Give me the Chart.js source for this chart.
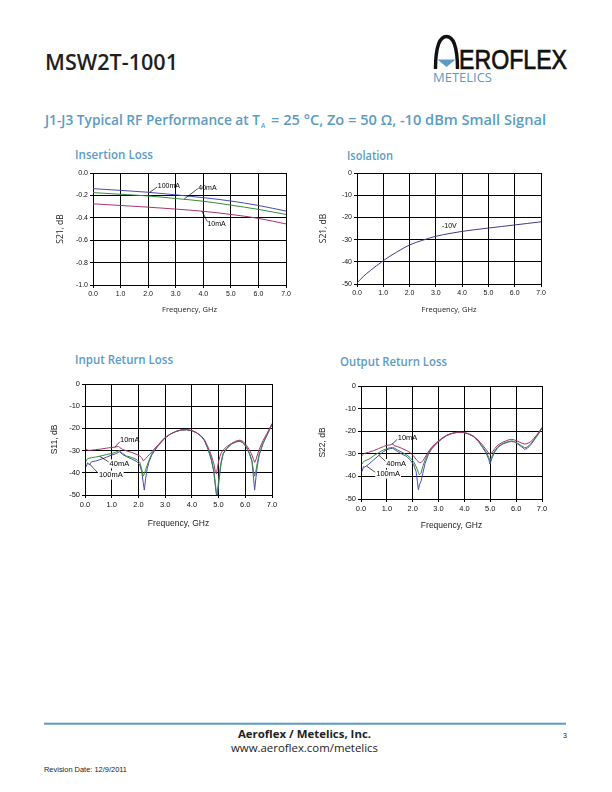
<!DOCTYPE html>
<html>
<head>
<meta charset="utf-8">
<script src="https://cdn.jsdelivr.net/npm/chart.js@4.4.1/dist/chart.umd.min.js"></script>
<style>
html, body { margin: 0; padding: 0; background: #fff; }
#page { position: relative; width: 612px; height: 792px; overflow: hidden; }
#page svg { position: absolute; left: 0; top: 0; }
canvas { position: absolute; }
</style>
</head>
<body>
<div id="page">
<svg width="612" height="792">
  <text x="45" y="69.5" font-family="Open Sans" font-weight="600" font-size="22" fill="#231f20" textLength="133" lengthAdjust="spacingAndGlyphs">MSW2T-1001</text>
  <path d="M435.5 69 C435.5 46, 440 36.5, 446.5 36.5 C453 36.5, 457.5 46, 457.5 69" fill="none" stroke="#111" stroke-width="3.4"/>
  <path d="M437.5 59.5 L455.5 59.5 L446.5 67 Z" fill="#5b9bc4"/>
  <text x="459" y="69" font-family="Liberation Sans" font-size="28" fill="#111" stroke="#111" stroke-width="0.7" textLength="108" lengthAdjust="spacingAndGlyphs">EROFLEX</text>
  <text x="433" y="81.5" font-family="Open Sans" font-size="12.5" fill="#5b9bc4" textLength="59" lengthAdjust="spacingAndGlyphs">METELICS</text>

  <text x="45" y="125" font-family="Open Sans" font-weight="600" font-size="14" fill="#5b9bc4" textLength="215" lengthAdjust="spacingAndGlyphs">J1-J3 Typical RF Performance at T</text>
  <text x="261" y="127.5" font-family="Open Sans" font-weight="600" font-size="6.5" fill="#5b9bc4">A</text>
  <text x="271" y="125" font-family="Open Sans" font-weight="600" font-size="14" fill="#5b9bc4" textLength="275" lengthAdjust="spacingAndGlyphs">= 25 °C, Zo = 50 Ω, -10 dBm Small Signal</text>

  <text x="75" y="159" font-family="Open Sans" font-weight="600" font-size="12.5" fill="#5b9bc4" textLength="78" lengthAdjust="spacingAndGlyphs">Insertion Loss</text>
  <text x="347" y="160" font-family="Open Sans" font-weight="600" font-size="12.5" fill="#5b9bc4" textLength="46" lengthAdjust="spacingAndGlyphs">Isolation</text>
  <text x="75" y="364" font-family="Open Sans" font-weight="600" font-size="12.5" fill="#5b9bc4" textLength="98" lengthAdjust="spacingAndGlyphs">Input Return Loss</text>
  <text x="340" y="366" font-family="Open Sans" font-weight="600" font-size="12.5" fill="#5b9bc4" textLength="107" lengthAdjust="spacingAndGlyphs">Output Return Loss</text>

  <rect x="44" y="722.7" width="522" height="2" fill="#5b9bc4"/>
  <text x="238" y="738" font-family="Open Sans" font-weight="700" font-size="11" fill="#222" textLength="133" lengthAdjust="spacingAndGlyphs">Aeroflex / Metelics, Inc.</text>
  <text x="231" y="751.5" font-family="Open Sans" font-size="11.5" fill="#222" textLength="147" lengthAdjust="spacingAndGlyphs">www.aeroflex.com/metelics</text>
  <text x="563" y="738" font-family="Liberation Sans" font-size="7" fill="#222">3</text>
  <text x="44" y="772" font-family="Liberation Sans" font-size="7.5" fill="#222" textLength="83" lengthAdjust="spacingAndGlyphs">Revision Date: 12/9/2011</text>
</svg>
<canvas id="ilChart" width="240" height="150" style="left:55px;top:165px"></canvas>
<canvas id="isoChart" width="235" height="150" style="left:318px;top:165px"></canvas>
<canvas id="s11Chart" width="232" height="155" style="left:50px;top:375px"></canvas>
<canvas id="s22Chart" width="235" height="155" style="left:318px;top:377px"></canvas>
</div>
<script>
// tick labels
const xTickLabels = ['0.0', '1.0', '2.0', '3.0', '4.0', '5.0', '6.0', '7.0'];
const ilTickLabels = ['-1.0', '-0.8', '-0.6', '-0.4', '-0.2', '0.0'];

// Insertion loss (S21, dB)
const freqIL = [0, 1, 2, 3, 4, 5, 6, 7];
const il100mA = [-0.14, -0.155, -0.172, -0.195, -0.22, -0.25, -0.29, -0.34];
const il40mA = [-0.175, -0.19, -0.205, -0.228, -0.252, -0.287, -0.325, -0.37];
const il10mA = [-0.275, -0.29, -0.305, -0.322, -0.342, -0.37, -0.405, -0.455];

// Isolation (S21, dB) at -10V
const freqIso = [0, 0.25, 0.5, 0.75, 1, 1.25, 1.5, 2, 2.5, 3, 3.5, 4, 4.5, 5, 5.5, 6, 6.5, 7];
const iso10V = [-49.5, -46.5, -44, -41.7, -39.5, -37.5, -35.7, -32.4, -30.3, -28.5, -27.3, -26.3, -25.5, -24.8, -24.1, -23.4, -22.7, -22];

// Input return loss (S11, dB)
const freqS11 = [0.04, 0.1, 0.16, 0.25, 0.4, 0.6, 0.8, 1.0, 1.15, 1.25, 1.3, 1.4, 1.55, 1.75, 1.95, 2.05, 2.12, 2.18, 2.22, 2.27,
  2.33, 2.4, 2.5, 2.62, 2.75, 2.87, 3.0, 3.2, 3.4, 3.6, 3.8, 4.0, 4.17, 4.35, 4.48, 4.6, 4.72, 4.82, 4.88, 4.92,
  4.96, 5.0, 5.05, 5.1, 5.17, 5.3, 5.48, 5.65, 5.8, 5.92, 6.04, 6.16, 6.25, 6.31, 6.35, 6.4, 6.45, 6.52, 6.66, 6.81, 7.0];
const s11_10mA = [-29.3, -29.8, -29.9, -29.8, -29.6, -29.3, -28.9, -28.6, -28.4, -28.1, -28.6, -29.4, -30.1, -30.8, -31.8, -32.4, -33.2, -34.6, -34.3, -33.6,
  -32.8, -31.9, -30.6, -28.9, -27.3, -25.6, -24.0, -22.5, -21.4, -20.7, -20.6, -21.0, -21.9, -23.4, -25.3, -28.3, -31.8, -35.8, -39.5, -40.5,
  -37.5, -35.0, -32.6, -31.0, -29.8, -28.3, -26.8, -25.7, -25.3, -25.9, -27.5, -29.8, -32.0, -34.0, -35.3, -34.0, -32.0, -29.5, -25.6, -22.3, -17.8];
const s11_40mA = [-34.7, -33.6, -33.4, -33.2, -32.9, -32.4, -31.8, -31.3, -30.7, -30.2, -30.0, -31.2, -32.4, -33.1, -34.1, -35.3, -38.2, -41.5, -40.5, -38.6,
  -36.5, -34.3, -31.4, -29.4, -27.5, -25.9, -24.2, -22.5, -21.4, -20.7, -20.6, -21.0, -21.9, -23.5, -25.6, -29.0, -33.3, -38.8, -44.8, -49.3,
  -48.0, -43.5, -38.5, -34.8, -31.3, -29.0, -27.0, -26.0, -25.7, -26.5, -28.3, -31.3, -34.3, -39.5, -41.5, -39.0, -35.5, -31.5, -26.8, -23.0, -18.1];
const s11_100mA = [-37.3, -35.5, -36.4, -35.0, -34.7, -33.9, -33.0, -32.0, -31.4, -30.8, -30.5, -31.7, -32.7, -33.8, -35.0, -36.5, -39.3, -44.5, -47.8, -42.5,
  -38.0, -35.0, -32.0, -29.8, -27.7, -26.0, -24.3, -22.5, -21.4, -20.7, -20.6, -21.0, -21.9, -23.6, -25.7, -29.3, -33.8, -39.5, -46.0, -50.0,
  -50.0, -45.5, -40.0, -35.5, -31.6, -29.2, -27.1, -26.1, -25.8, -26.6, -28.5, -31.6, -35.0, -42.5, -47.8, -42.0, -37.0, -32.0, -27.0, -23.1, -18.2];

// Output return loss (S22, dB)
const freqS22 = [0.04, 0.1, 0.14, 0.3, 0.49, 0.68, 0.87, 1.0, 1.13, 1.22, 1.28, 1.41, 1.58, 1.77, 1.9, 2.03, 2.13, 2.18, 2.22, 2.26,
  2.32, 2.39, 2.48, 2.6, 2.73, 2.93, 3.12, 3.31, 3.5, 3.7, 3.95, 4.15, 4.34, 4.53, 4.7, 4.83, 4.94, 4.99, 5.06, 5.17,
  5.3, 5.49, 5.69, 5.82, 5.94, 6.07, 6.2, 6.33, 6.42, 6.55, 6.68, 6.8, 6.93, 7.0];
const s22_10mA = [-30.9, -30.0, -29.8, -29.3, -28.6, -27.7, -26.8, -26.2, -26.1, -25.5, -26.4, -26.8, -27.6, -28.6, -29.5, -30.9, -32.4, -33.0, -33.6, -33.8,
  -33.9, -33.1, -31.5, -29.2, -27.1, -24.9, -23.2, -21.8, -21.0, -20.5, -20.5, -21.1, -22.1, -23.9, -26.1, -28.0, -29.8, -30.2, -29.6, -27.7,
  -26.1, -24.8, -23.9, -23.6, -23.9, -24.5, -25.2, -25.7, -25.5, -24.8, -23.3, -21.6, -19.5, -18.3];
const s22_40mA = [-34.5, -33.4, -33.2, -32.4, -30.9, -29.5, -28.3, -27.7, -27.3, -27.2, -27.4, -28.3, -29.3, -30.5, -31.7, -33.4, -35.6, -37.0, -38.3, -39.3,
  -38.6, -35.6, -32.7, -29.8, -27.6, -25.2, -23.3, -21.9, -21.0, -20.5, -20.5, -21.1, -22.2, -24.2, -26.8, -29.0, -31.5, -33.1, -31.2, -28.7,
  -26.8, -25.4, -24.6, -24.3, -24.6, -25.4, -26.4, -27.3, -27.1, -25.8, -23.9, -22.1, -19.8, -18.5];
const s22_100mA = [-37.8, -35.6, -35.9, -34.6, -32.7, -30.8, -29.0, -28.2, -27.7, -27.6, -27.9, -29.0, -30.1, -31.2, -32.7, -34.6, -37.8, -42.2, -45.9, -43.7,
  -42.2, -38.6, -34.2, -30.5, -27.9, -25.4, -23.5, -22.0, -21.1, -20.6, -20.6, -21.2, -22.3, -24.4, -27.2, -29.5, -32.4, -34.6, -32.1, -29.2,
  -27.1, -25.6, -24.8, -24.5, -24.8, -25.7, -26.8, -28.0, -27.7, -26.2, -24.2, -22.3, -20.0, -18.6];

const c10 = '#a8326f', c40 = '#348c3c', c100 = '#4a4ab8', cIso = '#3c3c8c';

// labels with leader lines, placed in data units
const notesPlugin = {
    id: 'notes',
    afterDatasetsDraw(chart, args, opts) {
        const ctx = chart.ctx;
        const xs = chart.scales.x, ys = chart.scales.y;
        ctx.save();
        ctx.font = opts.font || '7px "Liberation Sans"';
        ctx.strokeStyle = '#000';
        ctx.lineWidth = 0.7;
        (opts.items || []).forEach(n => {
            if (n.line) {
                ctx.beginPath();
                ctx.moveTo(xs.getPixelForValue(n.line[0]), ys.getPixelForValue(n.line[1]));
                ctx.lineTo(xs.getPixelForValue(n.line[2]), ys.getPixelForValue(n.line[3]));
                ctx.stroke();
            }
            const px = xs.getPixelForValue(n.x), py = ys.getPixelForValue(n.y);
            const w = ctx.measureText(n.text).width;
            if (n.bg) {
                ctx.fillStyle = '#fff';
                ctx.fillRect(px - 1, py - 4.5, w + 2, 9);
            }
            ctx.fillStyle = '#000';
            ctx.textBaseline = 'middle';
            ctx.fillText(n.text, px, py);
        });
        ctx.restore();
    }
};

function makeChart(id, cfg) {
    return new Chart(document.getElementById(id), {
        type: 'line',
        data: {
            datasets: cfg.series.map(s => ({
                data: s.x.map((f, i) => ({ x: f, y: s.y[i] })),
                borderColor: s.color,
                borderWidth: 1,
                pointRadius: 0,
                cubicInterpolationMode: s.smooth ? 'monotone' : 'default',
                tension: 0
            }))
        },
        options: {
            responsive: false,
            animation: false,
            devicePixelRatio: 1,
            layout: { padding: { left: 0, top: cfg.padTop, right: cfg.padRight, bottom: 0 } },
            plugins: {
                legend: { display: false },
                tooltip: { enabled: false },
                notes: { items: cfg.notes, font: cfg.noteFont }
            },
            scales: {
                x: {
                    type: 'linear', min: 0, max: 7,
                    ticks: { stepSize: 1, autoSkip: false, maxRotation: 0, padding: 2, color: '#111',
                        font: cfg.tickFont, callback: (v, i) => xTickLabels[i] },
                    grid: { color: '#000', lineWidth: 1, tickLength: 3, tickColor: '#000' },
                    border: { color: '#000', width: 1 },
                    title: { display: true, text: 'Frequency, GHz', color: '#222', font: cfg.titleFont, padding: { top: 0, bottom: 1 } },
                    afterFit: s => { s.height = cfg.xH; }
                },
                y: {
                    type: 'linear', min: cfg.yMin, max: cfg.yMax,
                    ticks: { stepSize: cfg.yStep, autoSkip: false, padding: 2, color: '#111',
                        font: cfg.tickFont, callback: cfg.yLabel },
                    grid: { color: '#000', lineWidth: 1, tickLength: 3, tickColor: '#000' },
                    border: { color: '#000', width: 1 },
                    title: { display: true, text: cfg.yTitle, color: '#222', font: cfg.yTitleFont || cfg.titleFont, padding: { top: 0, bottom: cfg.yTitlePad } },
                    afterFit: s => { s.width = cfg.yW; }
                }
            }
        },
        plugins: [notesPlugin]
    });
}

const smallTick = { family: 'Liberation Sans', size: 7 };
const smallTitle = { family: 'Open Sans', size: 7.5 };
const smallYTitle = { family: 'Open Sans', size: 8.5 };
const rlTick = { family: 'Liberation Sans', size: 7.5 };
const rlTitle = { family: 'Liberation Sans', size: 8.5 };

makeChart('ilChart', {
    series: [
        { x: freqIL, y: il10mA, color: c10, smooth: true },
        { x: freqIL, y: il40mA, color: c40, smooth: true },
        { x: freqIL, y: il100mA, color: c100, smooth: true }
    ],
    yMin: -1, yMax: 0, yStep: 0.2, yTitle: 'S21, dB',
    yLabel: (v, i) => ilTickLabels[i],
    yW: 38, xH: 30, padTop: 8, padRight: 9,
    tickFont: smallTick, titleFont: smallTitle, yTitleFont: smallYTitle, yTitlePad: 4,
    noteFont: '7px "Liberation Sans"',
    notes: [
        { text: '100mA', x: 2.35, y: -0.115, line: [2.33, -0.125, 2.06, -0.172] },
        { text: '40mA', x: 3.82, y: -0.134, line: [3.8, -0.14, 3.31, -0.232] },
        { text: '10mA', x: 4.15, y: -0.46, line: [4.15, -0.435, 3.95, -0.34] }
    ]
});

makeChart('isoChart', {
    series: [{ x: freqIso, y: iso10V, color: cIso, smooth: true }],
    yMin: -50, yMax: 0, yStep: 10, yTitle: 'S21, dB',
    yLabel: v => String(v),
    yW: 39, xH: 31, padTop: 8, padRight: 12,
    tickFont: smallTick, titleFont: smallTitle, yTitleFont: smallYTitle, yTitlePad: 4,
    noteFont: '7px "Liberation Sans"',
    notes: [{ text: '-10V', x: 3.23, y: -23.7 }]
});

makeChart('s11Chart', {
    series: [
        { x: freqS11, y: s11_10mA, color: c10 },
        { x: freqS11, y: s11_40mA, color: c40 },
        { x: freqS11, y: s11_100mA, color: c100 }
    ],
    yMin: -50, yMax: 0, yStep: 10, yTitle: 'S11, dB',
    yLabel: v => String(v),
    yW: 35, xH: 35, padTop: 9, padRight: 10,
    tickFont: rlTick, titleFont: rlTitle, yTitlePad: 2,
    noteFont: '7.5px "Liberation Sans"',
    notes: [
        { text: '10mA', x: 1.31, y: -25.2, line: [1.3, -26, 1.12, -28.4] },
        { text: '40mA', x: 0.92, y: -36, bg: true, line: [0.92, -35.3, 0.55, -32.6] },
        { text: '100mA', x: 0.52, y: -41, bg: true, line: [0.5, -40.3, 0.17, -36] }
    ]
});

makeChart('s22Chart', {
    series: [
        { x: freqS22, y: s22_10mA, color: c10 },
        { x: freqS22, y: s22_40mA, color: c40 },
        { x: freqS22, y: s22_100mA, color: c100 }
    ],
    yMin: -50, yMax: 0, yStep: 10, yTitle: 'S22, dB',
    yLabel: v => String(v),
    yW: 43, xH: 33, padTop: 9, padRight: 11,
    tickFont: rlTick, titleFont: rlTitle, yTitlePad: 2,
    noteFont: '7.5px "Liberation Sans"',
    notes: [
        { text: '10mA', x: 1.42, y: -22.9, line: [1.4, -23.6, 1.2, -25.8] },
        { text: '40mA', x: 0.98, y: -34.3, bg: true, line: [0.98, -33.6, 0.68, -30.6] },
        { text: '100mA', x: 0.59, y: -39, bg: true, line: [0.57, -38.3, 0.22, -35.5] }
    ]
});
</script>
</body>
</html>
